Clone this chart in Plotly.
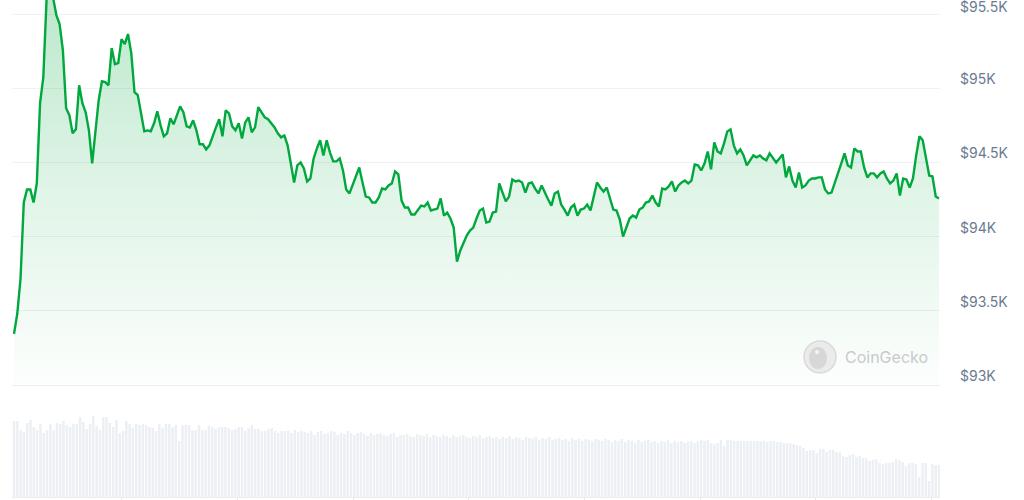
import numpy as np
import plotly.graph_objects as go

# ---- data (24h, evenly spaced samples) ----
price = [
    93345, 93480, 93716, 94230, 94318, 94318, 94230, 94358, 94899, 95074,
    95600, 95680, 95610, 95493, 95432, 95257, 94865, 94818, 94696, 94723,
    95020, 94899, 94838, 94716, 94493, 94703, 94919, 95047, 95041, 95020,
    95270, 95162, 95169, 95331, 95297, 95365, 95237, 94973, 94953, 94831,
    94710, 94716, 94710, 94764, 94845, 94750, 94676, 94696, 94797, 94757,
    94818, 94878, 94838, 94743, 94736, 94784, 94716, 94622, 94622, 94588,
    94615, 94682, 94736, 94791, 94676, 94851, 94831, 94743, 94716,
    94764, 94662, 94770, 94804, 94703, 94736, 94872, 94838, 94804, 94791,
    94764, 94736, 94696, 94669, 94682, 94615, 94493, 94365, 94480, 94500,
    94459, 94372, 94392, 94527, 94595, 94649, 94547, 94649, 94568, 94507,
    94507, 94527, 94446, 94318, 94291, 94345, 94412, 94466, 94365, 94270,
    94264, 94230, 94230, 94264, 94324, 94318, 94345, 94358, 94439, 94419,
    94243, 94196, 94196, 94149, 94149, 94182, 94209, 94203, 94230, 94176,
    94182, 94189, 94257, 94142, 94162, 94122, 94061, 93831, 93905, 93960,
    94007,
    94041, 94061, 94122, 94176, 94189, 94095, 94101, 94162, 94169, 94358,
    94297, 94237, 94270, 94385, 94372, 94378, 94365, 94297, 94358, 94365,
    94324, 94291, 94345, 94291, 94250, 94209, 94291, 94304, 94216, 94182,
    94142, 94196, 94216, 94142, 94182, 94189, 94216, 94176, 94270, 94365,
    94331, 94304, 94331, 94264, 94182, 94176, 94115, 94000, 94061, 94122,
    94142, 94128, 94182, 94196, 94230, 94237, 94277, 94230, 94203, 94324,
    94318, 94338, 94372, 94304, 94345, 94365, 94378, 94358, 94378, 94486,
    94480, 94446, 94493, 94574, 94453,
    94635, 94574, 94561, 94628, 94709, 94723, 94615, 94561, 94588, 94547,
    94480, 94514, 94547, 94534, 94547, 94527, 94514, 94561, 94534, 94500,
    94527, 94554, 94399, 94473, 94378, 94331, 94432, 94331, 94345, 94378,
    94392, 94392, 94399, 94399, 94318, 94291, 94297, 94358, 94426, 94493,
    94561, 94480, 94466, 94595, 94574, 94574, 94466, 94399, 94426, 94426,
    94399, 94426, 94439, 94392, 94358, 94378, 94426, 94277, 94392, 94385,
    94331, 94392, 94547, 94676, 94649, 94527, 94412, 94405, 94270, 94257,
]

volume = [
    76, 76, 67, 65, 74, 77, 70, 67, 73, 64, 67, 73, 67, 74, 73, 76, 72, 70, 73, 73,
    80, 75, 68, 73, 81, 71, 67,
    80, 80, 74, 70, 77, 64, 66, 76, 73, 69, 73, 72, 73, 72, 70, 69, 66, 73, 69, 73,
    73, 70, 72, 56, 72, 72, 72, 67, 67, 72, 67,
    67, 71, 70, 68, 70, 70, 70, 69, 67, 68, 70, 70, 66, 69, 72, 68, 68, 66, 66, 68,
    69, 66, 64, 66, 66, 67, 64, 67, 65, 66,
    65, 64, 66, 62, 65, 66, 63, 64, 66, 65, 62, 64, 63, 66, 64, 62, 64, 65, 63, 61,
    64, 62, 63, 64, 62, 61, 63, 64, 60, 62,
    62, 63, 61, 60, 63, 62, 61, 63, 60, 62, 61, 60, 62, 61, 59, 62, 60, 61, 62, 60,
    59, 61, 60, 62, 59, 60, 61, 59, 60, 58,
    60, 59, 61, 58, 60, 59, 57, 60, 59, 58, 60, 57, 59, 58, 60, 57, 58, 59, 57, 58,
    56, 59, 57, 58, 56, 58, 57, 56, 58, 57,
    56, 58, 57, 55, 57, 56, 58, 55, 57, 56, 54, 57, 55, 56, 57, 55, 56, 54, 56, 55,
    57, 54, 56, 55, 56, 54, 55, 56, 54, 56,
    57, 56, 57, 54, 53, 54, 57, 51, 57, 57, 56, 56, 56, 56, 56, 56, 56, 56, 56, 56,
    55, 56, 56, 55, 55, 54, 54, 54, 53, 52, 51,
    49, 46, 47, 47, 44, 48, 48, 45, 47, 47, 45, 45, 41, 40, 42, 43, 40, 41, 39, 39,
    36, 37, 38, 34, 33, 34, 34, 35, 38, 37, 35, 31, 34, 34, 33, 20, 34, 34, 16, 33,
    32, 32,
]

price_ticks = [93000, 93500, 94000, 94500, 95000, 95500]
price_tick_labels = ["$93K", "$93.5K", "$94K", "$94.5K", "$95K", "$95.5K"]
hour_ticks = [2.8, 5.8, 8.8, 11.8, 14.8, 17.8, 20.8, 23.8]

t_price = np.linspace(0, 24, len(price))
t_vol = np.linspace(0, 24, len(volume))

GREEN = "#00a83e"
GRID = "#eff1f4"
LABEL = "#6b7a92"

fig = go.Figure()

fig.add_trace(go.Bar(
    x=t_vol, y=volume, xaxis="x", yaxis="y2",
    marker=dict(color="#eceff3", line=dict(width=0)),
    width=24 / len(volume) * 0.75,
    hoverinfo="skip", showlegend=False,
))

fig.add_trace(go.Scatter(
    x=t_price, y=price, xaxis="x", yaxis="y",
    mode="lines",
    line=dict(color=GREEN, width=2.4),
    fill="tozeroy",
    fillgradient=dict(
        type="vertical",
        start=92990, stop=95600,
        colorscale=[[0, "rgba(0,168,62,0.01)"], [0.5, "rgba(0,168,62,0.12)"],
                    [1, "rgba(0,168,62,0.26)"]],
    ),
    showlegend=False,
))

annotations = []
for v, lab in zip(price_ticks, price_tick_labels):
    annotations.append(dict(
        x=1.0195, xref="paper", y=v, yref="y", xanchor="left", yanchor="bottom",
        text=lab, showarrow=False, yshift=(-3 if v == 95500 else -1),
        font=dict(family="Inter, Noto Sans, sans-serif", size=14, color=LABEL),
    ))

annotations.append(dict(
    x=0.8955, xref="paper", y=0.2817, yref="paper", xanchor="left", yanchor="middle",
    text="CoinGecko", showarrow=False,
    font=dict(family="Inter, Noto Sans, sans-serif", size=16, color="#c8cacc"),
))

shapes = [
    dict(type="circle", xref="paper", yref="paper", xsizemode="pixel", ysizemode="pixel",
         xanchor=0.8707, yanchor=0.2817, x0=-16, x1=16, y0=-16, y1=16,
         fillcolor="rgba(230,230,230,0.8)", line=dict(color="rgba(215,215,215,0.9)", width=1.5),
         layer="above"),
    dict(type="circle", xref="paper", yref="paper", xsizemode="pixel", ysizemode="pixel",
         xanchor=0.8707, yanchor=0.2817, x0=-11, x1=7, y0=-12, y1=10,
         fillcolor="rgba(210,210,210,0.8)", line=dict(width=0), layer="above"),
    dict(type="circle", xref="paper", yref="paper", xsizemode="pixel", ysizemode="pixel",
         xanchor=0.8707, yanchor=0.2817, x0=-5, x1=-1, y0=3, y1=7,
         fillcolor="rgba(245,245,245,1)", line=dict(width=0), layer="above"),
]

fig.update_layout(
    width=1024, height=500,
    margin=dict(l=12, r=84, t=0, b=3),
    paper_bgcolor="white", plot_bgcolor="white",
    bargap=0.2,
    xaxis=dict(
        range=[-0.052, 24.026], anchor="y2",
        showgrid=False, zeroline=False,
        showline=True, linecolor="#eceef1", linewidth=1,
        tickvals=hour_ticks, ticks="outside", ticklen=3, tickcolor="#e3e6ea",
        showticklabels=False,
    ),
    yaxis=dict(
        domain=[0.2213, 1], range=[92986.5, 95594.6],
        tickvals=price_ticks, showticklabels=False,
        showgrid=True, gridcolor=GRID, gridwidth=1, zeroline=False,
    ),
    yaxis2=dict(
        domain=[0.0, 0.185], range=[0, 92],
        showgrid=False, zeroline=False, showticklabels=False,
    ),
    annotations=annotations,
    shapes=shapes,
    hovermode=False,
)

fig.write_html(
    "out.html",
    config={"displayModeBar": False, "staticPlot": True},
    post_script="document.body.style.margin='0';document.body.style.overflow='hidden';",
)
